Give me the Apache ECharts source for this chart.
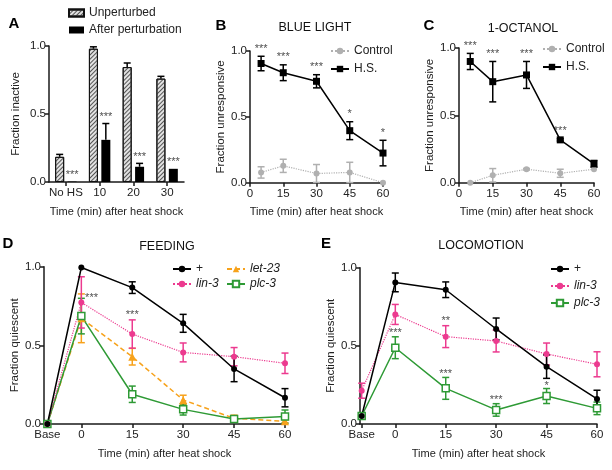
<!DOCTYPE html>
<html><head><meta charset="utf-8">
<script src="https://cdn.jsdelivr.net/npm/echarts@6/dist/echarts.min.js"></script>
<style>html,body{margin:0;padding:0;background:#fff}#c{width:612px;height:470px}</style>
</head><body><div id="c"></div>
<script>
// ---------- Panel A ----------
const aCategories = ['No HS', '10', '20', '30'];
const aUnperturbed = [0.185, 0.98, 0.845, 0.76];
const aUnperturbedErr = [0.018, 0.014, 0.03, 0.017];
const aAfter = [0.003, 0.31, 0.112, 0.097];
const aAfterErr = [0, 0.12, 0.025, 0];
const aStars = ['***', '***', '***', '***'];

// ---------- Panel B (BLUE LIGHT) ----------
const bTimes = [5, 15, 30, 45, 60];
const bHS = [0.905, 0.835, 0.77, 0.395, 0.225];
const bHSErr = [0.055, 0.06, 0.05, 0.068, 0.097];
const bControl = [0.078, 0.128, 0.07, 0.078, 0.0];
const bControlErr = [0.043, 0.05, 0.068, 0.077, 0];
const bStars = ['***', '***', '***', '*', '*'];

// ---------- Panel C (1-OCTANOL) ----------
const cTimes = [5, 15, 30, 45, 60];
const cHS = [0.90, 0.75, 0.80, 0.318, 0.14];
const cHSErr = [0.06, 0.15, 0.10, 0.008, 0.025];
const cControl = [0.0, 0.055, 0.10, 0.07, 0.10];
const cControlErr = [0, 0.05, 0.006, 0.03, 0];
const cStars = ['***', '***', '***', '***', ''];

// ---------- Panel D (FEEDING) ----------
const lineTicks = [-10, 0, 15, 30, 45, 60];   // -10 is the "Base" position
const lineTickLabels = ['Base', '0', '15', '30', '45', '60'];
const dTimes = [-10, 0, 15, 30, 45, 60];
const dWild = [0, 0.995, 0.867, 0.64, 0.35, 0.167];
const dWildErr = [0, 0, 0.037, 0.057, 0.081, 0.058];
const dLin3 = [0, 0.773, 0.572, 0.455, 0.428, 0.386];
const dLin3Err = [0, 0.163, 0.09, 0.06, 0.058, 0.065];
const dLet23 = [0, 0.672, 0.428, 0.153, 0.036, 0.017];
const dLet23Err = [0, 0.155, 0.053, 0.03, 0.02, 0.01];
const dPlc3 = [0, 0.686, 0.189, 0.093, 0.032, 0.047];
const dPlc3Err = [0, 0.113, 0.052, 0.036, 0.015, 0.042];
const dStars = [[3, 0.815, '***'], [15, 0.71, '***']];

// ---------- Panel E (LOCOMOTION) ----------
const eTimes = [-10, 0, 15, 30, 45, 60];
const eWild = [0.051, 0.906, 0.859, 0.608, 0.367, 0.16];
const eWildErr = [0.015, 0.06, 0.05, 0.07, 0.075, 0.056];
const eLin3 = [0.213, 0.701, 0.559, 0.531, 0.448, 0.382];
const eLin3Err = [0.048, 0.064, 0.07, 0.07, 0.07, 0.08];
const ePlc3 = [0.051, 0.488, 0.228, 0.09, 0.179, 0.10];
const ePlc3Err = [0.015, 0.07, 0.07, 0.04, 0.048, 0.04];
const eStars = [[0, 0.60, '***'], [15, 0.676, '**'], [15, 0.336, '***'], [30, 0.168, '***'], [45, 0.262, '*']];

// ---------- styling ----------
const FONT = '"Liberation Sans", Arial, Helvetica, sans-serif';
const AX = '#1a1a1a', TXT = '#222';
const PINK = '#ec3a8f', ORANGE = '#f7a21b', GREEN = '#2e9a35', GRAY = '#b0b0b0';
const XNAME = 'Time (min) after heat shock';

function yAx(grid, name, gap) {
  return {
    type: 'value', gridIndex: grid, min: 0, max: 1, interval: 0.5,
    axisLine: { show: true, onZero: false, lineStyle: { color: AX, width: 1.5 } },
    axisTick: { show: true, length: 4, lineStyle: { color: AX, width: 1.5 } },
    splitLine: { show: false },
    axisLabel: { fontSize: 11.5, color: TXT, margin: 3, fontFamily: FONT, formatter: v => v.toFixed(1) },
    name: name, nameLocation: 'middle', nameGap: gap,
    nameTextStyle: { fontSize: 11.5, color: TXT, fontFamily: FONT }
  };
}
function xName() {
  return { name: XNAME, nameLocation: 'middle', nameGap: 24, nameTextStyle: { fontSize: 11, color: TXT, fontFamily: FONT } };
}
const xLabel = { fontSize: 11.5, color: TXT, margin: 5, fontFamily: FONT, interval: 0 };
const axLine = { show: true, onZero: false, lineStyle: { color: AX, width: 1.5 } };
const axTick = { show: true, length: 4, lineStyle: { color: AX, width: 1.5 } };

function lineSeries(grid, name, xs, ys, o) {
  return {
    type: 'line', name: name, xAxisIndex: grid, yAxisIndex: grid,
    data: xs.map((x, i) => [x, ys[i]]),
    symbol: o.symbol, symbolSize: o.size, showSymbol: true, z: o.z || 4, animation: false,
    lineStyle: { color: o.color, width: o.width || 1.5, type: o.type || 'solid' },
    itemStyle: { color: o.fill || o.color, borderColor: o.color, borderWidth: o.bw || 0, opacity: 1 },
    emphasis: { disabled: true }
  };
}
function errBars(grid, xs, ys, errs, color, o) {
  o = o || {};
  return {
    type: 'custom', xAxisIndex: grid, yAxisIndex: grid, z: o.z || 3, silent: true, animation: false,
    data: xs.map((x, i) => [x, ys[i], errs[i]]),
    encode: { x: 0, y: 1 },
    renderItem: function (params, api) {
      const x = api.value(0), y = api.value(1), e = api.value(2);
      if (!(e > 0)) return null;
      const top = api.coord([x, y + e]);
      const bot = api.coord([x, o.up ? y : y - e]);
      const cx = top[0] + (o.dx || 0), w = o.cap || 3.5;
      const st = { stroke: color, lineWidth: o.lw || 1.5 };
      const ch = [
        { type: 'line', shape: { x1: cx, y1: top[1], x2: cx, y2: bot[1] }, style: st },
        { type: 'line', shape: { x1: cx - w, y1: top[1], x2: cx + w, y2: top[1] }, style: st }
      ];
      if (!o.up) ch.push({ type: 'line', shape: { x1: cx - w, y1: bot[1], x2: cx + w, y2: bot[1] }, style: st });
      return { type: 'group', children: ch };
    }
  };
}
function starSeries(grid, items, o) {
  o = o || {};
  return {
    type: 'scatter', xAxisIndex: grid, yAxisIndex: grid, symbolSize: 0, silent: true, z: 6, animation: false,
    data: items.filter(d => d[2]).map(d => ({ value: [d[0], d[1]], name: d[2] })),
    label: {
      show: true, formatter: '{b}', position: o.position || 'top', distance: o.distance == null ? 2 : o.distance,
      offset: o.offset || [0, 0], fontSize: 11, color: TXT, fontFamily: FONT
    }
  };
}

const legendBase = {
  orient: 'vertical', selectedMode: false, itemWidth: 18, itemHeight: 8, padding: 0,
  textStyle: { fontSize: 12, color: TXT, fontFamily: FONT, rich: { i: { fontStyle: 'italic', fontSize: 12, color: TXT, fontFamily: FONT } } },
  formatter: n => (n === '+' || n === 'Control' || n === 'H.S.' || n === 'Unperturbed' || n === 'After perturbation') ? n : '{i|' + n + '}'
};

const option = {
  animation: false,
  textStyle: { fontFamily: FONT },
  grid: [
    { left: 49, top: 46, width: 135, height: 136 },
    { left: 250, top: 51, width: 133, height: 131.7 },
    { left: 459, top: 48, width: 135, height: 134.7 },
    { left: 44, top: 266.7, width: 241, height: 157.3 },
    { left: 360, top: 267.7, width: 237, height: 156.3 }
  ],
  xAxis: [
    Object.assign({ type: 'category', gridIndex: 0, data: aCategories, axisLine: axLine,
      axisTick: Object.assign({ alignWithLabel: true, interval: 0 }, axTick), axisLabel: xLabel }, xName()),
    Object.assign({ type: 'value', gridIndex: 1, min: 0, max: 60, interval: 15, axisLine: axLine, axisTick: axTick,
      axisLabel: xLabel, splitLine: { show: false } }, xName()),
    Object.assign({ type: 'value', gridIndex: 2, min: 0, max: 60, interval: 15, axisLine: axLine, axisTick: axTick,
      axisLabel: xLabel, splitLine: { show: false } }, xName()),
    Object.assign({ type: 'value', gridIndex: 3, min: -11, max: 60, axisLine: axLine,
      axisTick: Object.assign({ customValues: lineTicks }, axTick),
      axisLabel: Object.assign({ customValues: lineTicks, formatter: v => lineTickLabels[lineTicks.indexOf(v)] }, xLabel),
      splitLine: { show: false } }, xName()),
    Object.assign({ type: 'value', gridIndex: 4, min: -10.5, max: 60, axisLine: axLine,
      axisTick: Object.assign({ customValues: lineTicks }, axTick),
      axisLabel: Object.assign({ customValues: lineTicks, formatter: v => lineTickLabels[lineTicks.indexOf(v)] }, xLabel),
      splitLine: { show: false } }, xName())
  ],
  yAxis: [
    yAx(0, 'Fraction inactive', 27),
    yAx(1, 'Fraction unresponsive', 23),
    yAx(2, 'Fraction unresponsive', 23),
    yAx(3, 'Fraction quiescent', 22),
    yAx(4, 'Fraction quiescent', 22)
  ],
  legend: [
    Object.assign({}, legendBase, { data: ['Unperturbed', 'After perturbation'], left: 68, top: 7, itemWidth: 15, itemHeight: 7, itemGap: 5, icon: 'rect' }),
    Object.assign({}, legendBase, { data: ['Control', 'H.S.'], left: 330, top: 45, itemGap: 6 }),
    Object.assign({}, legendBase, { data: ['Control', 'H.S.'], left: 542, top: 43, itemGap: 6 }),
    Object.assign({}, legendBase, { data: ['+', 'lin-3'], left: 172, top: 263, itemGap: 3 }),
    Object.assign({}, legendBase, { data: ['let-23', 'plc-3'], left: 226, top: 263, itemGap: 3 }),
    Object.assign({}, legendBase, { data: ['+', 'lin-3', 'plc-3'], left: 550, top: 263, itemGap: 5 })
  ],
  series: [
    // ---- A ----
    { type: 'bar', name: 'Unperturbed', xAxisIndex: 0, yAxisIndex: 0, data: aUnperturbed, barWidth: 9, barGap: '38%',
      itemStyle: { color: '#e2e2e2', borderColor: '#111', borderWidth: 1,
        decal: { symbol: 'rect', symbolSize: 1, color: '#555', dashArrayX: [1, 0], dashArrayY: [1, 2], rotation: -Math.PI / 4 } } },
    { type: 'bar', name: 'After perturbation', xAxisIndex: 0, yAxisIndex: 0, data: aAfter, barWidth: 9,
      itemStyle: { color: '#000' } },
    errBars(0, aCategories.map((c, i) => i), aUnperturbed, aUnperturbedErr, '#000', { up: true, dx: -6.2, z: 1 }),
    errBars(0, aCategories.map((c, i) => i), aAfter, aAfterErr, '#000', { up: true, dx: 6.2, z: 1 }),
    starSeries(0, aCategories.map((c, i) => [i, aAfter[i] + aAfterErr[i], aStars[i]]), { offset: [6.2, 0], distance: 1 }),
    // ---- B ----
    errBars(1, bTimes, bControl, bControlErr, GRAY),
    lineSeries(1, 'Control', bTimes, bControl, { symbol: 'circle', size: 6, color: GRAY, type: 'dotted', width: 1.2 }),
    errBars(1, bTimes, bHS, bHSErr, '#000'),
    lineSeries(1, 'H.S.', bTimes, bHS, { symbol: 'rect', size: 7, color: '#000' }),
    starSeries(1, bTimes.map((t, i) => [t, bHS[i] + bHSErr[i], bStars[i]])),
    // ---- C ----
    errBars(2, cTimes, cControl, cControlErr, GRAY),
    lineSeries(2, 'Control', cTimes, cControl, { symbol: 'circle', size: 6, color: GRAY, type: 'dotted', width: 1.2 }),
    errBars(2, cTimes, cHS, cHSErr, '#000'),
    lineSeries(2, 'H.S.', cTimes, cHS, { symbol: 'rect', size: 7, color: '#000' }),
    starSeries(2, cTimes.map((t, i) => [t, cHS[i] + cHSErr[i], cStars[i]])),
    // ---- D ----
    errBars(3, dTimes, dLet23, dLet23Err, ORANGE),
    lineSeries(3, 'let-23', dTimes, dLet23, { symbol: 'triangle', size: 8, color: ORANGE, type: [5, 3] }),
    errBars(3, dTimes, dPlc3, dPlc3Err, GREEN),
    lineSeries(3, 'plc-3', dTimes, dPlc3, { symbol: 'rect', size: 7, color: GREEN, fill: '#fff', bw: 1.5 }),
    errBars(3, dTimes, dLin3, dLin3Err, PINK),
    lineSeries(3, 'lin-3', dTimes, dLin3, { symbol: 'circle', size: 6, color: PINK, type: 'dotted', width: 1.2 }),
    errBars(3, dTimes, dWild, dWildErr, '#000'),
    lineSeries(3, '+', dTimes, dWild, { symbol: 'circle', size: 6, color: '#000' }),
    starSeries(3, dStars, { position: 'inside', offset: [0, 2.5] }),
    // ---- E ----
    errBars(4, eTimes, ePlc3, ePlc3Err, GREEN),
    lineSeries(4, 'plc-3', eTimes, ePlc3, { symbol: 'rect', size: 7, color: GREEN, fill: '#fff', bw: 1.5 }),
    errBars(4, eTimes, eLin3, eLin3Err, PINK),
    lineSeries(4, 'lin-3', eTimes, eLin3, { symbol: 'circle', size: 6, color: PINK, type: 'dotted', width: 1.2 }),
    errBars(4, eTimes, eWild, eWildErr, '#000'),
    lineSeries(4, '+', eTimes, eWild, { symbol: 'circle', size: 6, color: '#000' }),
    starSeries(4, eStars, { position: 'inside', offset: [0, 2.5] })
  ],
  graphic: [
    { type: 'text', x: 14, y: 24, style: { text: 'A', font: 'bold 15px ' + FONT, fill: '#000', textAlign: 'center', textVerticalAlign: 'middle' } },
    { type: 'text', x: 221, y: 26, style: { text: 'B', font: 'bold 15px ' + FONT, fill: '#000', textAlign: 'center', textVerticalAlign: 'middle' } },
    { type: 'text', x: 429, y: 26, style: { text: 'C', font: 'bold 15px ' + FONT, fill: '#000', textAlign: 'center', textVerticalAlign: 'middle' } },
    { type: 'text', x: 8, y: 244, style: { text: 'D', font: 'bold 15px ' + FONT, fill: '#000', textAlign: 'center', textVerticalAlign: 'middle' } },
    { type: 'text', x: 326, y: 244, style: { text: 'E', font: 'bold 15px ' + FONT, fill: '#000', textAlign: 'center', textVerticalAlign: 'middle' } },
    { type: 'text', x: 315, y: 28, style: { text: 'BLUE LIGHT', font: '12.5px ' + FONT, fill: '#111', textAlign: 'center', textVerticalAlign: 'middle' } },
    { type: 'text', x: 523, y: 29, style: { text: '1-OCTANOL', font: '12.5px ' + FONT, fill: '#111', textAlign: 'center', textVerticalAlign: 'middle' } },
    { type: 'text', x: 167, y: 247, style: { text: 'FEEDING', font: '12.5px ' + FONT, fill: '#111', textAlign: 'center', textVerticalAlign: 'middle' } },
    { type: 'text', x: 481, y: 246, style: { text: 'LOCOMOTION', font: '12.5px ' + FONT, fill: '#111', textAlign: 'center', textVerticalAlign: 'middle' } }
  ]
};
const chart = echarts.init(document.getElementById('c'));
chart.setOption(option);
</script>
</body></html>
